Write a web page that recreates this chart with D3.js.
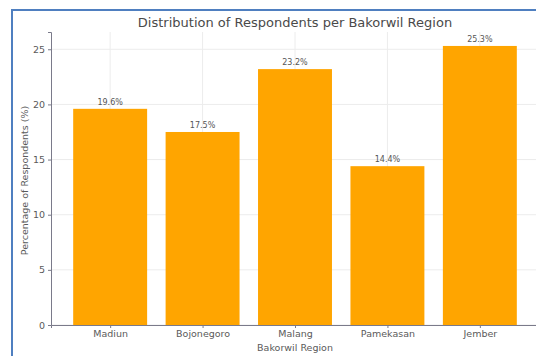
<!DOCTYPE html>
<html>
<head>
<meta charset="utf-8">
<script src="https://cdn.jsdelivr.net/npm/d3@7"></script>
<style>
  body { margin: 0; background: #fff; }
  svg { display: block; font-family: 'DejaVu Sans', sans-serif; }
</style>
</head>
<body>
<div id="chart-area"></div>
<script>
var regions = ['Madiun', 'Bojonegoro', 'Malang', 'Pamekasan', 'Jember']
var percents = [19.6, 17.5, 23.2, 14.4, 25.3]
var yTicks = [0, 5, 10, 15, 20, 25]

var W = 536, H = 356
var margin = { top: 32, left: 51, bottom: 31, right: -3 }
var width = W - margin.left - margin.right
var height = H - margin.top - margin.bottom

var svg = d3.select('#chart-area').append('svg')
    .attr('width', W)
    .attr('height', H)

// blue frame of the screenshot
svg.append('line').attr('x1', 12).attr('y1', 10).attr('x2', W).attr('y2', 10)
    .attr('stroke', '#4f7fc0').attr('stroke-width', 2)
svg.append('line').attr('x1', 12).attr('y1', 9).attr('x2', 12).attr('y2', H)
    .attr('stroke', '#4f7fc0').attr('stroke-width', 2)

var g = svg.append('g').attr('transform', `translate(${ margin.left }, ${ margin.top })`)

// matplotlib-like limits: bars of width .8, 5% margins
var x = d3.scaleLinear().domain([-0.64, regions.length - 1 + 0.64]).range([0, width])
var y = d3.scaleLinear().domain([0, d3.max(percents) * 1.05]).range([height, 0])
var barW = x(0.8) - x(0)

// grid
g.append('g').selectAll('line').data(yTicks).enter().append('line')
    .attr('x1', 0).attr('x2', width)
    .attr('y1', d => y(d)).attr('y2', d => y(d))
    .attr('stroke', '#ececec').attr('stroke-width', 1)
g.append('g').selectAll('line').data(regions).enter().append('line')
    .attr('x1', (d, i) => x(i)).attr('x2', (d, i) => x(i))
    .attr('y1', 0).attr('y2', height)
    .attr('stroke', '#ececec').attr('stroke-width', 1)

g.selectAll('rect').data(percents).enter().append('rect')
    .attr('x', (d, i) => x(i) - barW / 2)
    .attr('width', barW)
    .attr('y', d => y(d))
    .attr('height', d => height - y(d))
    .attr('fill', '#ffa500')

g.selectAll('.val').data(percents).enter().append('text')
    .attr('class', 'val')
    .attr('x', (d, i) => x(i))
    .attr('y', d => y(d) - 4)
    .attr('text-anchor', 'middle')
    .attr('font-size', '8px')
    .attr('fill', '#555')
    .text(d => d.toFixed(1) + '%')

var xAxisCall = d3.axisBottom(x).tickValues(d3.range(regions.length))
    .tickFormat(i => regions[i]).tickSize(3).tickPadding(2)
var xAxisGroup = g.append('g').attr('transform', `translate(0, ${height})`).call(xAxisCall)

var yAxisCall = d3.axisLeft(y).tickValues(yTicks).tickSize(3).tickPadding(3)
var yAxisGroup = g.append('g').call(yAxisCall)

xAxisGroup.selectAll('text').attr('font-size', '9.5px').attr('fill', '#5a5a5a').attr('font-family', 'DejaVu Sans')
yAxisGroup.selectAll('text').attr('font-size', '9.5px').attr('fill', '#5a5a5a').attr('font-family', 'DejaVu Sans')
g.selectAll('.domain').attr('stroke', '#7a7a8a')
g.selectAll('.tick line').attr('stroke', '#7a7a8a')

svg.append('text')
    .attr('x', margin.left + x(2))
    .attr('y', 27)
    .attr('text-anchor', 'middle')
    .attr('font-size', '13px')
    .attr('fill', '#4a4a4a')
    .text('Distribution of Respondents per Bakorwil Region')

svg.append('text')
    .attr('x', margin.left + x(2))
    .attr('y', 351)
    .attr('text-anchor', 'middle')
    .attr('font-size', '9.5px')
    .attr('fill', '#5a5a5a')
    .text('Bakorwil Region')

svg.append('text')
    .attr('transform', `translate(28, ${margin.top + height / 2 + 2}) rotate(-90)`)
    .attr('text-anchor', 'middle')
    .attr('font-size', '9.5px')
    .attr('fill', '#5a5a5a')
    .text('Percentage of Respondents (%)')
</script>
</body>
</html>
